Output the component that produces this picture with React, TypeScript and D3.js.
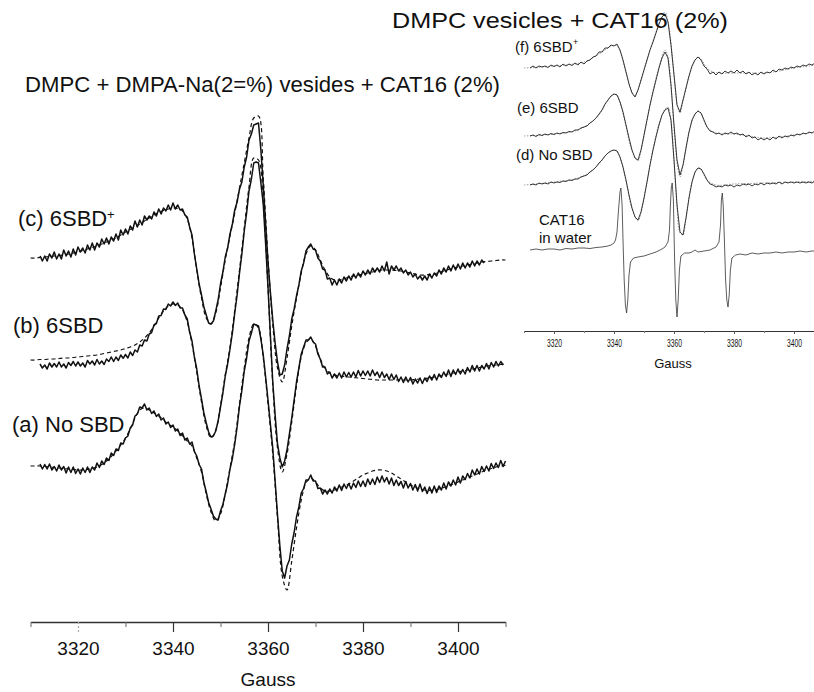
import { useEffect, useRef } from 'react';
import * as d3 from 'd3';

// Field axis (Gauss), shared by both panels
const FIELD_MIN = 3310;
const FIELD_MAX = 3410;
const MAJOR_TICKS = [3320, 3340, 3360, 3380, 3400];
const MINOR_TICKS = [3310, 3330, 3350, 3370, 3390, 3410];

// main panel: experimental every 0.5 G from 3312 G, simulated every 1 G from 3310 G
const EXP_START = 3312;
const EXP_STEP = 0.5;
const SIM_START = 3310;
const SIM_STEP = 1;
// inset: experimental every 1 G from 3312 G
const INSET_START = 3312;
const INSET_STEP = 1;

// vertical stacking offsets (signal units)
const OFFSET_C = 342;
const OFFSET_B = 238;
const OFFSET_A = 134;
const OFFSET_F = 272;
const OFFSET_E = 205;
const OFFSET_D = 155;
const OFFSET_W = 90;

const mainTitle = 'DMPC + DMPA-Na(2=%) vesides + CAT16 (2%)';
const insetTitle = 'DMPC vesicles + CAT16 (2%)';

// (c) 6SBD+
const cExp = [
  2, -3, 2, -3, 4, 0, 6, -1, 4, -1,
  8, 2, 7, 1, 9, 3, 11, 6, 10, 5,
  13, 8, 15, 8, 15, 11, 19, 14, 20, 14,
  21, 17, 24, 18, 28, 23, 29, 24, 32, 28,
  37, 31, 38, 33, 42, 38, 42, 39, 46, 42,
  49, 44, 50, 47, 53, 48, 55, 49, 53, 48,
  49, 43, 41, 31, 23, 4, -11, -26, -37, -49,
  -57, -65, -66, -63, -53, -42, -26, -14, 1, 10,
  24, 34, 48, 56, 69, 76, 91, 101, 118, 124,
  133, 134, 135, 108, 73, 34, -4, -34, -62, -85,
  -104, -117, -116, -107, -91, -78, -61, -51, -38, -27,
  -13, -5, 7, 11, 14, 9, 8, 0, -3, -11,
  -12, -21, -20, -27, -22, -27, -21, -25, -19, -23,
  -18, -22, -16, -20, -15, -19, -13, -17, -12, -16,
  -10, -14, -10, -14, -8, -13, -4, -16, -8, -12,
  -8, -13, -10, -15, -12, -17, -14, -19, -16, -21,
  -18, -22, -18, -22, -16, -20, -15, -18, -12, -16,
  -10, -14, -8, -13, -7, -12, -6, -11, -5, -10,
  -5, -9, -3, -8, -3, -7, -2, -5,
];
const cSim = [
  0, 0, 0.5, 1, 1.5, 2, 2.5, 3, 4, 5,
  6, 7.5, 9, 10.5, 12, 14, 16, 18, 20, 23,
  26, 28.5, 31, 34, 37, 40, 43, 45.5, 47.5, 49,
  50, 49.5, 47, 39, 20, -12, -40, -60, -66, -55,
  -30, -2, 22, 45, 70, 95, 120, 140, 142, 80,
  0, -66, -110, -124, -100, -68, -40, -15, 4, 12,
  8, -2, -12, -19, -22, -22, -21, -19, -18, -17,
  -16, -15, -14, -13, -12, -12, -12, -12.5, -13, -14,
  -15, -16, -17, -17, -16.5, -16, -14.5, -13, -11.5, -10,
  -9, -8, -7, -6, -5, -4, -3.5, -3, -2.5, -2,
  -2,
];

// (b) 6SBD
const bExp = [
  -2, -6, -3, -7, -1, -5, -1.5, -5, 0, -5,
  -2, -6, -0.5, -3.5, 0.5, -4, 0, -4, -1, -5,
  1.5, -2, 1, -3, 2.5, -2, 1, -2.5, 3, 0.5,
  5, 0.5, 5, 1.5, 7, 3.7, 7.5, 4, 10, 6.5,
  12, 10, 17, 16, 22, 21, 28, 29.5, 37, 38.5,
  46, 46.5, 53, 52.5, 58, 56, 60, 56.5, 59, 54,
  54, 47, 43, 30, 21, 5, -7, -24, -37, -51,
  -61, -70, -75, -74, -69, -59, -45, -31, -14, -2,
  13, 29, 49, 67, 89, 108, 131, 149, 171, 183,
  199, 200, 199, 179, 158, 118, 75, 27, -20, -53,
  -82, -96, -105, -99, -88, -72, -56, -38, -20, -6,
  8, 15, 22, 22, 25, 20, 18, 8, 3, -5,
  -5, -12, -10, -16, -12, -16, -11, -16, -10, -15,
  -10.5, -15, -10, -15, -8.5, -14, -9, -13.5, -9, -14,
  -8, -13.5, -10, -15.5, -10, -15.5, -12, -17.5, -12, -17.5,
  -13, -19.5, -15, -20.5, -15, -20, -15.5, -22, -17, -21,
  -16, -21.5, -16, -19.5, -14, -18, -12.5, -18, -12, -15.5,
  -10, -14.5, -8, -14.5, -8, -12.5, -7, -12, -7.5, -12,
  -5.5, -10, -3.5, -9, -3.5, -9, -3.5, -7, -1.5, -7,
  -0.5, -5, 0.5, -4, 0.5, -3,
];
const bSim = [
  2, 2, 2.5, 2.5, 3, 3, 3.5, 4, 4, 4.5,
  5, 5.5, 6, 6.5, 7, 8, 9, 10, 11, 12,
  13.5, 15, 17, 20, 24, 29, 36, 44, 51, 56,
  58, 57, 52, 40, 18, -10, -40, -64, -76, -68,
  -44, -13, 15, 52, 92, 134, 175, 204, 202, 160,
  74, -22, -86, -110, -92, -60, -24, 5, 19, 23,
  16, 3, -6, -11, -13, -14, -14.5, -15, -15.5, -16,
  -16.5, -17, -17.5, -18, -18, -18, -18, -18, -18, -18,
  -18, -17.5, -17, -16.5, -16, -15, -14, -13, -12, -11,
  -10, -9, -8, -7, -6, -5, -4, -3.5, -3, -2.5,
  -2,
];

// (a) No SBD
const aExp = [
  2, -3, 1.5, -3, 2, -4, -0.5, -5, 1, -4,
  -0.5, -7, -1, -6.5, -1, -7.5, -3, -8, -2, -6.5,
  -1, -6.5, -1, -4, 3, -1.5, 5, 1.5, 8, 5.5,
  13, 10.5, 17, 15.5, 23, 22, 28, 30, 38, 41,
  50, 52, 59, 58, 62, 56, 58, 52.5, 55, 49.5,
  52, 46, 48, 42, 44, 38.5, 41, 35, 37, 30.5,
  33, 26, 28, 22, 24, 14.5, 10, 1.5, -3, -16.5,
  -26, -36.5, -43, -50, -53, -54, -45, -38.5, -28, -17.5,
  -3, 7.5, 22, 39, 60, 75.5, 95, 108, 125, 133,
  142, 141, 140, 127, 111, 89, 66, 42, 18, -15,
  -49, -80, -105, -112, -100, -94, -78, -66.5, -51, -41,
  -27, -22.5, -14, -14, -9, -15, -15, -22.5, -22, -28,
  -24, -28, -23, -27, -21, -25, -19, -24.5, -18, -22.5,
  -17.5, -23, -17, -21.5, -15, -20.5, -15, -20.5, -13, -18.5,
  -13, -18.5, -11, -16.5, -10, -16, -11.5, -18, -12, -19.5,
  -14, -19.5, -15.5, -22, -15.5, -22, -17.5, -24, -18.5, -25,
  -18, -25.5, -21, -27.5, -21, -27, -20, -26.5, -20, -24,
  -17, -23, -16, -20, -14, -19, -11, -17, -10, -13.7,
  -7.5, -12, -4, -9, -3, -8, -0.5, -5.5, 0, -5,
  2.5, -2.5, 3, -1.5, 5.5, -0.5, 5,
];
const aSim = [
  0, 0, 0, -0.5, -1, -1.5, -2, -2.5, -3, -3.5,
  -4, -4, -3.5, -2.5, -1, 1.5, 5, 9.5, 15, 21,
  28, 37, 48, 56, 58, 56, 53, 50, 46, 42,
  39, 35, 30, 25, 20, 8, -6, -28, -46, -55,
  -48, -28, -2, 25, 62, 98, 128, 142, 138, 108,
  62, 12, -52, -110, -124, -95, -62, -34, -17, -12,
  -16, -22, -25, -25, -24, -22, -20, -18, -15, -12,
  -9, -7, -5, -4, -4, -5, -7, -10, -13, -16,
  -19, -21, -23, -24, -24.5, -24, -23, -21.5, -20, -18,
  -16, -14, -12, -10, -8, -6, -4, -2.5, -1, 0,
  0.5,
];

// inset: (f) 6SBD+, (e) 6SBD, (d) No SBD, CAT16 in water
const fExp = [
  0, 2, 0, 2, 1, 2, 0.5, 3, 1.5, 3,
  1, 4, 2, 4, 2.5, 5, 3, 6, 4, 7,
  8, 11, 12, 16, 16, 20, 20, 23, 22, 24,
  18, 8, -4, -16, -25, -29, -22, -12, -2, 8,
  18, 26, 35, 44, 51, 54, 46, 23, -7, -37,
  -44, -32, -20, -8, 2, 8, 11, 8, 2, -1,
  -6, -4, -7, -4, -6, -3, -5, -3, -5, -2,
  -5, -3, -6, -4, -7, -5, -7, -4, -6, -4,
  -5, -2, -4, -1, -2, 0, -1, 1, 0, 2,
  1, 3, 2, 4, 3, 5, 4, 5, 4,
];
const fSim: [number, number][] = [
  [3310, 0], [3320, 2], [3330, 6], [3335, 14], [3338, 20], [3340, 23], [3341, 22],
  [3342, 17], [3344, -4], [3346, -24], [3347, -28], [3348, -22], [3350, -2], [3352, 18],
  [3354, 36], [3356, 52], [3357, 56], [3358, 47], [3360, -6], [3361, -36], [3362, -45],
  [3363, -33], [3365, -8], [3367, 8], [3368, 11], [3369, 9], [3371, 0], [3373, -4],
  [3376, -5], [3380, -5], [3385, -5], [3390, -5], [3395, -3], [3400, 0], [3405, 2], [3410, 4],
];
const eExp = [
  -1, 0, -1.5, 0.5, -0.5, 1, 0, 1.5, 0.5, 2,
  1, 2.5, 2, 3.5, 3, 5, 5, 7, 8, 9,
  12, 14, 17, 21, 25, 31, 35, 39, 41, 40,
  33, 23, 10, -3, -15, -23, -25, -15, 0, 15,
  30, 43, 55, 67, 77, 83, 77, 50, 10, -25,
  -40, -30, -13, 3, 15, 21, 24, 22, 15, 8,
  4, 3, 1, 2, 0, 2, 1, 3, 1, 2,
  0, 1, -2, 0, -3, -2, -5, -3, -5, -3,
  -5, -2, -4, -1, -3, -1, -2, 0, -1, 1,
  0, 2, 1, 3, 2, 4, 3, 5, 4,
];
const eSim: [number, number][] = [
  [3310, -1], [3320, 1], [3328, 5], [3332, 12], [3335, 20], [3338, 35], [3340, 41],
  [3341, 40], [3342, 33], [3344, 9], [3346, -16], [3348, -26], [3349, -16], [3351, 15],
  [3353, 44], [3355, 68], [3357, 85], [3358, 78], [3359, 50], [3360, 8], [3361, -27],
  [3362, -42], [3363, -31], [3365, 3], [3367, 21], [3368, 24], [3369, 22], [3371, 8],
  [3374, 2], [3380, 1], [3385, -1], [3390, -3], [3395, -2], [3400, 0], [3405, 2], [3410, 4],
];
const dExp = [
  0, 1, 0, 2, 1, 2, 1, 3, 2, 3,
  2.5, 4, 3.5, 5, 4.5, 6, 6, 8, 9, 10,
  13, 15, 18, 22, 25, 29, 32, 34, 35, 34,
  28, 18, 5, -10, -23, -32, -35, -27, -13, 3,
  20, 35, 48, 60, 70, 75, 77, 65, 25, -20,
  -47, -50, -33, -13, 3, 13, 17, 16, 11, 5,
  1, 0, -2, -1, -2, 0, -1, 0, -2, 0,
  -1, 1, 0, 1, -1, 1, 0, 2, 0, 2,
  1, 2, 1, 3, 1, 3, 2, 3, 2, 3,
  2, 3, 2, 3, 2, 4, 3, 4, 3,
];
const dSim: [number, number][] = [
  [3310, 0], [3320, 3], [3328, 7], [3332, 13], [3335, 21], [3338, 32], [3340, 35],
  [3341, 34], [3342, 28], [3344, 4], [3346, -24], [3348, -36], [3349, -28], [3351, 3],
  [3353, 36], [3355, 61], [3357, 76], [3358, 78], [3359, 64], [3360, 24], [3361, -21],
  [3362, -48], [3363, -50], [3364, -33], [3366, 3], [3368, 17], [3369, 16], [3371, 5],
  [3374, 0], [3380, 1], [3390, 2], [3400, 3], [3410, 4],
];
const waterCat16: [number, number][] = [
  [3312, 0], [3314, 1], [3316, 0], [3318, 1], [3320, 1], [3322, 0], [3324, 1.5], [3326, 1],
  [3328, 2], [3330, 2], [3332, 1.5], [3334, 2.5], [3336, 3], [3338, 4], [3339, 5], [3340, 7],
  [3340.5, 10], [3341, 18], [3341.5, 40], [3342, 58], [3342.3, 62], [3342.7, 45], [3343, 10],
  [3343.4, -30], [3343.8, -55], [3344.2, -63], [3344.6, -50], [3345, -25], [3345.5, -12],
  [3346.5, -8], [3348, -7], [3350, -6], [3352, -4], [3354, -2], [3356, 1], [3357, 3], [3358, 8],
  [3358.5, 20], [3358.8, 45], [3359.1, 62], [3359.4, 67], [3359.8, 50], [3360.2, -10],
  [3360.6, -50], [3361, -67], [3361.4, -50], [3361.8, -20], [3362.3, -6], [3363.5, -3],
  [3365, -3], [3366, -2], [3367, 0], [3368, -2], [3370, -1], [3372, 0], [3374, 3], [3375, 8],
  [3375.5, 25], [3375.8, 50], [3376.1, 57], [3376.4, 45], [3376.8, 10], [3377.2, -30],
  [3377.6, -50], [3378, -57], [3378.4, -45], [3378.8, -20], [3379.3, -8], [3380.5, -5],
  [3382, -4], [3384, -5], [3386, -3], [3388, -4], [3390, -3], [3392, -3], [3394, -2],
  [3396, -3], [3398, -2], [3400, -2], [3402, -1], [3404, -2], [3406, -1], [3408, -1], [3410, -1],
];

const FONT = 'Arial, "Liberation Sans", sans-serif';

export default function App() {
  const svgRef = useRef<SVGSVGElement>(null);

  useEffect(() => {
    if (!svgRef.current) return;
    const svg = d3.select(svgRef.current);
    svg.selectAll('*').remove();

    const x = d3.scaleLinear().domain([FIELD_MIN, FIELD_MAX]).range([30.5, 505.5]);
    const y = d3.scaleLinear().domain([0, 600]).range([600, 0]);
    const xi = d3.scaleLinear().domain([FIELD_MIN, FIELD_MAX]).range([524, 824]);
    const yi = d3.scaleLinear().domain([0, 340]).range([340, 0]);

    const sampled = (vals: number[], start: number, step: number) =>
      vals.map((v, i) => [start + i * step, v] as [number, number]);

    const mainLine = (off: number, curve: d3.CurveFactory) =>
      d3.line<[number, number]>().x((d) => x(d[0])).y((d) => y(d[1] + off)).curve(curve);
    const insetLine = (off: number, curve: d3.CurveFactory) =>
      d3.line<[number, number]>().x((d) => xi(d[0])).y((d) => yi(d[1] + off)).curve(curve);

    // main panel spectra
    const main = svg.append('g');
    const mainSets = [
      { exp: cExp, sim: cSim, off: OFFSET_C },
      { exp: bExp, sim: bSim, off: OFFSET_B },
      { exp: aExp, sim: aSim, off: OFFSET_A },
    ];
    mainSets.forEach((s) => {
      main.append('path')
        .attr('d', mainLine(s.off, d3.curveLinear)(sampled(s.exp, EXP_START, EXP_STEP)))
        .attr('fill', 'none')
        .attr('stroke', '#111')
        .attr('stroke-width', 1.5)
        .attr('stroke-linejoin', 'round');
      main.append('path')
        .attr('d', mainLine(s.off, d3.curveCatmullRom)(sampled(s.sim, SIM_START, SIM_STEP)))
        .attr('fill', 'none')
        .attr('stroke', '#111')
        .attr('stroke-width', 1.2)
        .attr('stroke-dasharray', '4,3');
    });

    // main axis
    const axisY = 622;
    const ax = main.append('g')
      .attr('transform', `translate(0,${axisY})`)
      .call(d3.axisBottom(x).tickValues(MAJOR_TICKS).tickSize(10).tickSizeOuter(0).tickPadding(10).tickFormat(d3.format('d')));
    ax.select('.domain').attr('stroke', '#333').attr('stroke-width', 1.4);
    ax.selectAll('.tick line').attr('stroke', '#333').attr('stroke-width', 1.2);
    ax.selectAll('.tick text')
      .attr('fill', '#111')
      .style('font-family', FONT)
      .style('font-size', '19px');
    ax.selectAll('.tick')
      .filter((d) => d === 3320)
      .select('line')
      .attr('stroke', '#aaa')
      .attr('stroke-dasharray', '2,2');
    const axMinor = main.append('g')
      .attr('transform', `translate(0,${axisY})`)
      .call(d3.axisBottom(x).tickValues(MINOR_TICKS).tickSize(5).tickSizeOuter(0).tickFormat(() => ''));
    axMinor.select('.domain').remove();
    axMinor.selectAll('.tick line').attr('stroke', '#666');

    main.append('text')
      .attr('x', x(3360))
      .attr('y', 686)
      .attr('text-anchor', 'middle')
      .style('font-family', FONT)
      .style('font-size', '19px')
      .attr('fill', '#111')
      .text('Gauss');

    main.append('text')
      .attr('x', 25)
      .attr('y', 92)
      .attr('textLength', 475)
      .attr('lengthAdjust', 'spacingAndGlyphs')
      .style('font-family', FONT)
      .style('font-size', '22px')
      .attr('fill', '#111')
      .text(mainTitle);

    const mainLabels = [
      { t: '(c) 6SBD', x: 18, y: 226 },
      { t: '(b) 6SBD', x: 13, y: 333 },
      { t: '(a) No SBD', x: 12, y: 432 },
    ];
    mainLabels.forEach((l) => {
      main.append('text')
        .attr('x', l.x)
        .attr('y', l.y)
        .style('font-family', FONT)
        .style('font-size', '22px')
        .attr('fill', '#111')
        .text(l.t);
    });
    main.append('text')
      .attr('x', 107)
      .attr('y', 219)
      .style('font-family', FONT)
      .style('font-size', '13px')
      .attr('fill', '#111')
      .text('+');

    // inset spectra
    const inset = svg.append('g');
    const insetSets = [
      { exp: fExp, sim: fSim, off: OFFSET_F },
      { exp: eExp, sim: eSim, off: OFFSET_E },
      { exp: dExp, sim: dSim, off: OFFSET_D },
    ];
    insetSets.forEach((s) => {
      inset.append('path')
        .attr('d', insetLine(s.off, d3.curveCatmullRom)(s.sim))
        .attr('fill', 'none')
        .attr('stroke', '#9a9a9a')
        .attr('stroke-width', 1)
        .attr('stroke-dasharray', '1.5,1.5');
      inset.append('path')
        .attr('d', insetLine(s.off, d3.curveLinear)(sampled(s.exp, INSET_START, INSET_STEP)))
        .attr('fill', 'none')
        .attr('stroke', '#222')
        .attr('stroke-width', 0.9);
    });
    inset.append('path')
      .attr('d', insetLine(OFFSET_W, d3.curveLinear)(waterCat16))
      .attr('fill', 'none')
      .attr('stroke', '#333')
      .attr('stroke-width', 0.8);

    const insetAxisY = 331;
    const ix = inset.append('g')
      .attr('transform', `translate(0,${insetAxisY})`)
      .call(d3.axisBottom(xi).tickValues(MAJOR_TICKS).tickSize(3).tickSizeOuter(0).tickPadding(5).tickFormat(d3.format('d')));
    ix.select('.domain').attr('stroke', '#333').attr('stroke-width', 1.2);
    ix.selectAll('.tick line').attr('stroke', '#555');
    ix.selectAll('.tick text')
      .attr('fill', '#111')
      .attr('textLength', 15)
      .attr('lengthAdjust', 'spacingAndGlyphs')
      .style('font-family', FONT)
      .style('font-size', '11px');
    const ixMinor = inset.append('g')
      .attr('transform', `translate(0,${insetAxisY})`)
      .call(d3.axisBottom(xi).tickValues(MINOR_TICKS).tickSize(2).tickSizeOuter(0).tickFormat(() => ''));
    ixMinor.select('.domain').remove();
    ixMinor.selectAll('.tick line').attr('stroke', '#777');

    inset.append('text')
      .attr('x', xi(3360) - 1)
      .attr('y', 368)
      .attr('text-anchor', 'middle')
      .style('font-family', FONT)
      .style('font-size', '13px')
      .attr('fill', '#111')
      .text('Gauss');

    inset.append('text')
      .attr('x', 392)
      .attr('y', 28)
      .attr('textLength', 336)
      .attr('lengthAdjust', 'spacingAndGlyphs')
      .style('font-family', FONT)
      .style('font-size', '22px')
      .attr('fill', '#111')
      .text(insetTitle);

    const insetLabels = [
      { t: '(f) 6SBD', x: 515, y: 52 },
      { t: '(e) 6SBD', x: 517, y: 113 },
      { t: '(d) No SBD', x: 516, y: 160 },
      { t: 'CAT16', x: 539, y: 225 },
      { t: 'in water', x: 539, y: 243 },
    ];
    insetLabels.forEach((l) => {
      inset.append('text')
        .attr('x', l.x)
        .attr('y', l.y)
        .style('font-family', FONT)
        .style('font-size', '15px')
        .attr('fill', '#111')
        .text(l.t);
    });
    inset.append('text')
      .attr('x', 573)
      .attr('y', 45)
      .style('font-family', FONT)
      .style('font-size', '9px')
      .attr('fill', '#111')
      .text('+');
  }, []);

  return (
    <svg
      ref={svgRef}
      width={814}
      height={692}
      style={{ position: 'absolute', left: 0, top: 0, background: '#fff', display: 'block' }}
    />
  );
}
